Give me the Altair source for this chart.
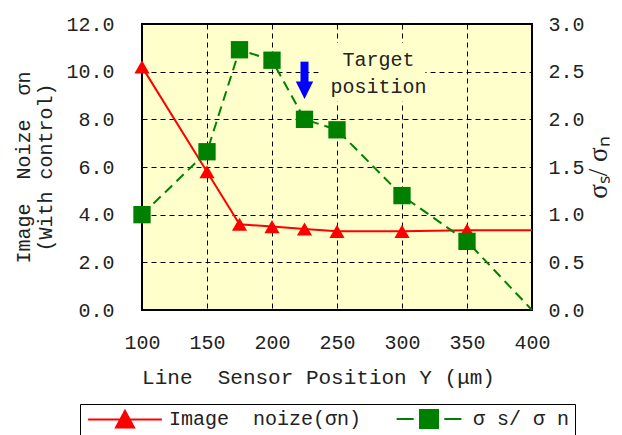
import altair as alt
import pandas as pd

# Measured values along the line sensor
positions = [100, 150, 175, 200, 225, 250, 300, 350, 400]
noise_sigma_n = [10.2, 5.8, 3.6, 3.5, 3.4, 3.3, 3.3, 3.35, 3.35]
ratio_s_n = [1.0, 1.66, 2.73, 2.62, 2.0, 1.89, 1.2, 0.72, 0.0]
has_marker = [True, True, True, True, True, True, True, True, False]

NB = "\u00a0"
series_names = [f"Image{NB}{NB}noize(σn)", f"{NB}σ{NB}s/{NB}σ{NB}n"]
series_colors = ["#ff0000", "#008000"]

# Target position annotation
target_x = 225
arrow_top, arrow_shaft_end, arrow_head = 10.42, 9.45, 9.22
label_x, label_y = 282, 10.5
label_box = {"pos": 236, "pos2": 318, "value": 11.2, "value2": 8.75}

FONT = "Liberation Mono"
BG = "#ffffcc"

noise_df = pd.DataFrame({"pos": positions, "value": noise_sigma_n,
                         "marker": has_marker, "series": series_names[0]})
ratio_df = pd.DataFrame({"pos": positions, "value": ratio_s_n,
                         "marker": has_marker, "series": series_names[1]})

x_enc = alt.X(
    "pos:Q",
    scale=alt.Scale(domain=[100, 400], nice=False, zero=False),
    axis=alt.Axis(
        values=[100, 150, 200, 250, 300, 350, 400],
        title=f"Line{NB}{NB}Sensor Position Y (μm)",
        titleFontSize=21, titleX=176,
        grid=True, gridColor="black", gridDash=[5, 4], gridWidth=1, gridOpacity=1,
        domain=False, ticks=False, labelPadding=22, titlePadding=14,
        labelFlush=False, labelOverlap=False,
    ),
)

y_left = alt.Y(
    "value:Q",
    scale=alt.Scale(domain=[0, 12], nice=False),
    axis=alt.Axis(
        values=[0, 2, 4, 6, 8, 10, 12], format=".1f",
        title=[f"Image{NB}{NB}Noize{NB}{NB}σn", "(With control)"],
        grid=True, gridColor="black", gridDash=[5, 4], gridWidth=1, gridOpacity=1,
        domain=False, ticks=False, labelPadding=28, titlePadding=10,
        titleLineHeight=22, labelFlush=False,
    ),
)

y_right = alt.Y(
    "value:Q",
    scale=alt.Scale(domain=[0, 3], nice=False),
    axis=alt.Axis(
        orient="right", values=[0, 0.5, 1, 1.5, 2, 2.5, 3], format=".1f",
        title=f"σₛ/{NB}σₙ", titleAngle=270, titleFontSize=27, titleFont="Liberation Serif",
        grid=False, domain=False, ticks=False, labelPadding=16, titlePadding=28,
        labelFlush=False,
    ),
)

# Label box that hides the grid behind the annotation text
box_df = pd.DataFrame([label_box])
box = alt.Chart(box_df).mark_rect(color=BG).encode(
    x=x_enc, x2="pos2:Q", y=y_left, y2="value2:Q"
)

noise_line = alt.Chart(noise_df).mark_line(color="#ff0000", strokeWidth=2).encode(x=x_enc, y=y_left)
noise_pts = alt.Chart(noise_df).transform_filter("datum.marker").mark_point(
    shape="triangle-up", size=230, filled=True, color="#ff0000", opacity=1
).encode(x="pos:Q", y="value:Q")

# Legend entries: invisible points whose legend symbols combine line and marker
legend_paths = [
    "M-4.1,0H4.1M-1,0.9L0,-0.95L1,0.9Z",
    "M-3.6,0H-1.7M-1,-1H1V1H-1ZM1.7,0H3.6",
]
legend_df = pd.DataFrame({"pos": [positions[0]] * 2, "value": [noise_sigma_n[0]] * 2,
                          "series": series_names})
legend_layer = alt.Chart(legend_df).mark_point(opacity=0, strokeWidth=2).encode(
    x="pos:Q", y="value:Q",
    fill=alt.Fill("series:N", scale=alt.Scale(domain=series_names, range=series_colors), legend=None),
    stroke=alt.Stroke("series:N", scale=alt.Scale(domain=series_names, range=series_colors), legend=None),
    shape=alt.Shape(
        "series:N",
        scale=alt.Scale(domain=series_names, range=legend_paths),
        legend=alt.Legend(
            title=None, orient="none", direction="horizontal",
            legendX=-62, legendY=380,
            symbolSize=324, symbolStrokeWidth=2, symbolOpacity=1, symbolOffset=30,
            labelFont=FONT, labelFontSize=20, labelColor="#222222",
            labelOffset=34, columnPadding=27, labelLimit=400,
            strokeColor="black", fillColor="white", padding=5,
        ),
    ),
)

arrow_df = pd.DataFrame({"pos": [target_x], "top": [arrow_top], "bottom": [arrow_shaft_end], "head": [arrow_head]})
arrow_shaft = alt.Chart(arrow_df).mark_rule(color="#0000ff", strokeWidth=8).encode(
    x="pos:Q", y="top:Q", y2="bottom:Q")
arrow_tip = alt.Chart(arrow_df).mark_point(
    shape="M-1,-1H1L0,1Z", size=300, filled=True, color="#0000ff", opacity=1
).encode(x="pos:Q", y="head:Q")

text_df = pd.DataFrame({"pos": [label_x], "value": [label_y], "label": ["Target\nposition"]})
target_text = alt.Chart(text_df).mark_text(
    font=FONT, fontSize=20, lineBreak="\n", lineHeight=27, color="#222222", baseline="middle"
).encode(x="pos:Q", y="value:Q", text="label:N")

left = alt.layer(box, noise_line, noise_pts, arrow_shaft, arrow_tip, target_text, legend_layer)

ratio_line = alt.Chart(ratio_df).mark_line(color="#008000", strokeWidth=2, strokeDash=[10, 6]).encode(
    x=x_enc, y=y_right)
ratio_pts = alt.Chart(ratio_df).transform_filter("datum.marker").mark_point(
    shape="square", size=300, filled=True, color="#008000", opacity=1
).encode(x="pos:Q", y="value:Q")
right = alt.layer(ratio_line, ratio_pts)

chart = alt.layer(left, right).resolve_scale(y="independent").properties(
    width=390, height=286,
    autosize=alt.AutoSizeParams(type="none"),
    padding={"left": 142, "top": 24, "right": 90, "bottom": 125},
    background="white",
).configure_view(
    fill=BG, stroke="black", strokeWidth=2
).configure_axis(
    labelFont=FONT, labelFontSize=20, labelColor="#222222",
    titleFont=FONT, titleFontSize=20, titleColor="#222222", titleFontWeight="normal",
)

chart.save("out.html", embed_options={"renderer": "svg", "actions": False})
